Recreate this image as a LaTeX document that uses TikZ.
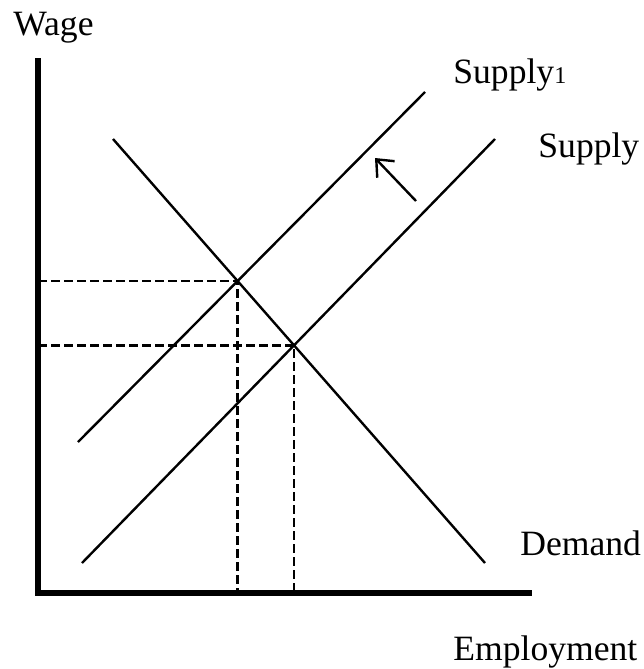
\documentclass[tikz,border=0pt]{standalone}
\usepackage{fontspec}
\setmainfont{Liberation Serif}
\usetikzlibrary{arrows.meta,calc}

\begin{document}
\begin{tikzpicture}[x=0.5pt, y=-0.5pt,
  every node/.style={font=\fontsize{17.8}{20}\selectfont, inner sep=0pt},
  axis/.style={line width=3pt},
  curve/.style={line width=1.2pt},
  guide/.style={line width=1.3pt, dash pattern=on 4.5pt off 2pt},
  shiftarrow/.style={line width=1.2pt, -{Straight Barb[length=7pt,width=12pt]}}
]
  \useasboundingbox (0,0) rectangle (643,669);

  % axes
  \coordinate (origin) at (38,593);
  \coordinate (ytop) at (38,58);
  \coordinate (xend) at (532,593);
  \draw[axis] (ytop) -- (origin) -- (xend);

  % supply and demand
  \coordinate (s1a) at (78,442);  \coordinate (s1b) at (425,92);
  \coordinate (s0a) at (82,563);  \coordinate (s0b) at (495,139);
  \coordinate (da)  at (113,139); \coordinate (db)  at (485,563);
  \draw[curve] (s1a) -- (s1b);
  \draw[curve] (s0a) -- (s0b);
  \draw[curve] (da) -- (db);

  % equilibria
  \coordinate (e1) at (intersection of s1a--s1b and da--db);
  \coordinate (e0) at (intersection of s0a--s0b and da--db);
  \draw[guide] (origin |- e1) -- (e1) -- (e1 |- origin);
  \draw[guide] (origin |- e0) -- (e0) -- (e0 |- origin);

  % shift
  \coordinate (tail) at (416,201);
  \coordinate (head) at (375,158);
  \draw[shiftarrow] (tail) -- (head);

  % labels
  \node[anchor=base west] (wage) at (13,35) {Wage};
  \node[anchor=base west] (supply1) at (453,83) {Supply{\fontsize{12}{14}\selectfont 1}};
  \node[anchor=base west] (supply) at (538,157) {Supply};
  \node[anchor=base west] (demand) at (520,555) {Demand};
  \node[anchor=base west] (employment) at (453,660) {Employment};
\end{tikzpicture}
\end{document}
